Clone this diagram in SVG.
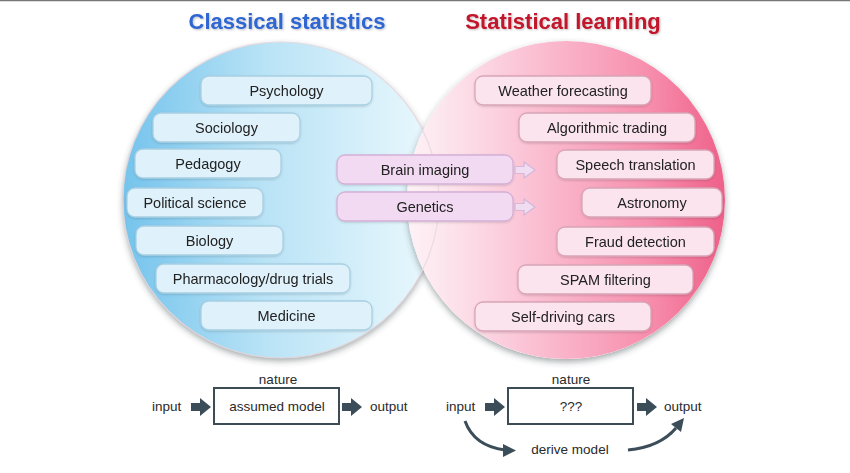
<svg xmlns="http://www.w3.org/2000/svg" width="850" height="473" viewBox="0 0 850 473">
<defs>
<linearGradient id="gBlue" gradientUnits="userSpaceOnUse" x1="122" y1="0" x2="440" y2="0">
<stop offset="0" stop-color="#74c3ec"/>
<stop offset="0.45" stop-color="#b9e3f6"/>
<stop offset="1" stop-color="#ecf9fd"/>
</linearGradient>
<linearGradient id="gPink" gradientUnits="userSpaceOnUse" x1="405" y1="0" x2="727" y2="0">
<stop offset="0" stop-color="#fdf1f5" stop-opacity="0.85"/>
<stop offset="0.35" stop-color="#fbc7d8"/>
<stop offset="0.75" stop-color="#f78fae"/>
<stop offset="1" stop-color="#ee5f88"/>
</linearGradient>
<filter id="sh" x="-10%" y="-10%" width="120%" height="125%">
<feDropShadow dx="0" dy="3" stdDeviation="3" flood-color="#304040" flood-opacity="0.45"/>
</filter>
<filter id="bsh" x="-10%" y="-20%" width="120%" height="150%">
<feDropShadow dx="0" dy="1" stdDeviation="1" flood-color="#000" flood-opacity="0.15"/>
</filter>
<filter id="tsh" x="-5%" y="-20%" width="110%" height="150%">
<feDropShadow dx="1" dy="1" stdDeviation="0.8" flood-color="#000" flood-opacity="0.25"/>
</filter>
</defs>
<style>
text { font-family: "Liberation Sans", Arial, sans-serif; fill: #222; }
.title { font-size: 22px; font-weight: bold; text-anchor: middle; }
.lbl { font-size: 14.5px; text-anchor: middle; }
.small { font-size: 13.5px; fill: #2a2a2a; }
.mid { text-anchor: middle; }
.bb rect { fill: #dff2fb; stroke: #a8cfe2; stroke-width: 1.3; }
.pb rect { fill: #fbe4ed; stroke: #d9a4b6; stroke-width: 1.3; }
.mb rect { fill: #f2daf2; stroke: #d4b0d6; stroke-width: 1.3; }
.mbar { fill: #f0ddf1; stroke: #d6b6d9; stroke-width: 1.2; }
.model { fill: #fff; stroke: #3d4b55; stroke-width: 2; }
.blk { fill: #3c4d5a; }
.curve { fill: none; stroke: #3c4d5a; stroke-width: 3; }
</style>
<rect x="0" y="0" width="850" height="473" fill="#fff"/>
<line x1="0" y1="0.5" x2="850" y2="0.5" stroke="#777" stroke-width="1.5"/>

<g id="titles" filter="url(#tsh)">
<text class="title" x="287" y="29" style="fill:#2f66d2">Classical statistics</text>
<text class="title" x="563" y="29" style="fill:#c2142b">Statistical learning</text>
</g>

<g id="circles">
<circle cx="281" cy="200" r="158" fill="url(#gBlue)" filter="url(#sh)"/>
<circle cx="566" cy="200" r="159" fill="#ffffff" filter="url(#sh)"/>
<circle cx="566" cy="200" r="159" fill="url(#gPink)"/>
<circle cx="281" cy="200" r="158" fill="none" stroke="#e6d6dc" stroke-width="1.2" opacity="0.8"/>
</g>

<g id="classical" class="bb" filter="url(#bsh)">
<g id="psychology"><rect x="201" y="76" width="171" height="29" rx="8"/><text class="lbl" x="286.5" y="96">Psychology</text></g>
<g id="sociology"><rect x="153" y="113" width="147" height="29" rx="8"/><text class="lbl" x="226.5" y="133">Sociology</text></g>
<g id="pedagogy"><rect x="135" y="149" width="146" height="29" rx="8"/><text class="lbl" x="208" y="169">Pedagogy</text></g>
<g id="political"><rect x="127" y="188" width="136" height="29" rx="8"/><text class="lbl" x="195" y="208">Political science</text></g>
<g id="biology"><rect x="136" y="226" width="147" height="29" rx="8"/><text class="lbl" x="209.5" y="246">Biology</text></g>
<g id="pharmacology"><rect x="156" y="264" width="194" height="29" rx="8"/><text class="lbl" x="253" y="284">Pharmacology/drug trials</text></g>
<g id="medicine"><rect x="201" y="301" width="171" height="29" rx="8"/><text class="lbl" x="286.5" y="321">Medicine</text></g>
</g>

<g id="learning" class="pb" filter="url(#bsh)">
<g id="weather"><rect x="475" y="76" width="176" height="29" rx="8"/><text class="lbl" x="563" y="96">Weather forecasting</text></g>
<g id="algotrading"><rect x="519" y="113" width="176" height="29" rx="8"/><text class="lbl" x="607" y="133">Algorithmic trading</text></g>
<g id="speech"><rect x="557" y="150" width="157" height="29" rx="8"/><text class="lbl" x="635.5" y="170">Speech translation</text></g>
<g id="astronomy"><rect x="582" y="188" width="140" height="29" rx="8"/><text class="lbl" x="652" y="208">Astronomy</text></g>
<g id="fraud"><rect x="557" y="227" width="157" height="29" rx="8"/><text class="lbl" x="635.5" y="247">Fraud detection</text></g>
<g id="spam"><rect x="518" y="265" width="175" height="29" rx="8"/><text class="lbl" x="605.5" y="285">SPAM filtering</text></g>
<g id="selfdriving"><rect x="475" y="302" width="176" height="29" rx="8"/><text class="lbl" x="563" y="322">Self-driving cars</text></g>
</g>

<g id="moving" class="mb" filter="url(#bsh)">
<g id="brain"><rect x="337" y="155" width="176" height="29" rx="8"/><text class="lbl" x="425" y="175">Brain imaging</text></g>
<g id="genetics"><rect x="337" y="192" width="176" height="29" rx="8"/><text class="lbl" x="425" y="212">Genetics</text></g>
</g>

<g id="connectors">
<path class="mbar" d="M515,166.5 H524 V162 L535,170 L524,178 V173.5 H515 Z"/>
<path class="mbar" d="M515,203.5 H524 V199 L535,207 L524,215 V210.5 H515 Z"/>
<path class="blk" d="M191,403 H200 V398 L211,407 L200,416 V411 H191 Z"/>
<path class="blk" d="M342,403 H351 V398 L362,407 L351,416 V411 H342 Z"/>
<path class="blk" d="M485,403 H494 V398 L505,407 L494,416 V411 H485 Z"/>
<path class="blk" d="M637,403 H646 V398 L657,407 L646,416 V411 H637 Z"/>
<path class="curve" d="M465,421 Q474,446 505,450"/>
<path class="blk" d="M503,444 L516,450.5 L503,457 Z"/>
<path class="curve" d="M628,450 Q660,447 676,428"/>
<path class="blk" d="M671,424 L684,418 L681,432 Z"/>
</g>

<g id="classical-model">
<text class="small mid" x="278" y="384">nature</text>
<rect class="model" x="214" y="388" width="125" height="36"/>
<text class="small mid" x="277" y="411">assumed model</text>
<text class="small" x="152" y="411">input</text>
<text class="small" x="370" y="411">output</text>
</g>

<g id="learning-model">
<text class="small mid" x="571" y="384">nature</text>
<rect class="model" x="508" y="388" width="125" height="36"/>
<text class="small mid" x="571" y="411">???</text>
<text class="small" x="446" y="411">input</text>
<text class="small" x="664" y="411">output</text>
<text class="small mid" x="570" y="454">derive model</text>
</g>
</svg>
